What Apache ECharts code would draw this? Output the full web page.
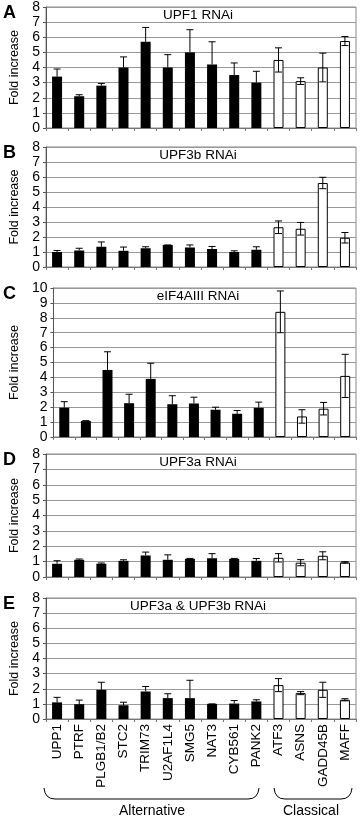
<!DOCTYPE html>
<html lang="en">
<head>
<meta charset="UTF-8">
<title>Fold increase after RNAi</title>
<script src="https://cdn.jsdelivr.net/npm/echarts@6/dist/echarts.min.js"></script>
<style>
  html, body { margin: 0; padding: 0; background: #fff; }
</style>
</head>
<body>
<div id="main" style="width:360px;height:818px;"></div>
<script type="text/javascript">
// genes, first 10 alternative targets, last 4 classical
var genes = ['UPP1', 'PTRF', 'PLGB1/B2', 'STC2', 'TRIM73', 'U2AF1L4', 'SMG5', 'NAT3', 'CYB561', 'PANK2',
             'ATF3', 'ASNS', 'GADD45B', 'MAFF'];
var nAlternative = 10;

var panelLetters = ['A', 'B', 'C', 'D', 'E'];
var panelTitles = ['UPF1 RNAi', 'UPF3b RNAi', 'eIF4AIII RNAi', 'UPF3a RNAi', 'UPF3a & UPF3b RNAi'];
var panelMax = [8, 8, 10, 8, 8];

// fold increase
var upf1 = [3.4, 2.1, 2.8, 4.0, 5.7, 4.0, 5.0, 4.2, 3.5, 3.0, 4.5, 3.1, 4.0, 5.75];
var upf1Err = [0.5, 0.1, 0.15, 0.7, 0.95, 0.85, 1.5, 1.5, 0.8, 0.75, 0.8, 0.22, 0.95, 0.3];

var upf3b = [1.0, 1.1, 1.35, 1.08, 1.25, 1.47, 1.3, 1.2, 1.0, 1.15, 2.65, 2.55, 5.6, 1.95];
var upf3bErr = [0.1, 0.15, 0.32, 0.25, 0.1, 0, 0.17, 0.17, 0.08, 0.2, 0.42, 0.42, 0.38, 0.35];

var eif4a3 = [1.97, 1.07, 4.5, 2.27, 3.9, 2.2, 2.25, 1.83, 1.56, 1.96, 8.4, 1.38, 1.9, 4.1];
var eif4a3Err = [0.4, 0.03, 1.22, 0.6, 1.05, 0.57, 0.42, 0.17, 0.22, 0.38, 1.4, 0.45, 0.42, 1.45];

var upf3a = [0.86, 1.12, 0.86, 1.05, 1.4, 1.12, 1.18, 1.22, 1.18, 1.05, 1.25, 0.93, 1.38, 0.95];
var upf3aErr = [0.2, 0.05, 0.05, 0.07, 0.22, 0.32, 0.03, 0.3, 0.03, 0.15, 0.27, 0.2, 0.26, 0.05];

var upf3ab = [1.1, 0.98, 1.93, 0.91, 1.82, 1.38, 1.38, 1.0, 1.02, 1.16, 2.24, 1.71, 1.93, 1.27];
var upf3abErr = [0.33, 0.27, 0.5, 0.2, 0.33, 0.29, 1.18, 0, 0.2, 0.11, 0.43, 0.1, 0.5, 0.07];

var panelValues = [upf1, upf3b, eif4a3, upf3a, upf3ab];
var panelErrors = [upf1Err, upf3bErr, eif4a3Err, upf3aErr, upf3abErr];

// layout of the five plot areas (px)
var gridTops = [7, 147, 288, 454, 598];
var gridHeights = [121, 120, 149, 123, 121];
var gridLeft = 40, gridRight = 4;

var font = 'Liberation Sans, Arial, sans-serif';
var myChart = echarts.init(document.getElementById('main'));

var grids = [], xAxes = [], yAxes = [], series = [], graphics = [];

for (var p = 0; p < 5; p++) {
    grids.push({
        left: gridLeft, right: gridRight, top: gridTops[p], height: gridHeights[p],
        show: true, borderColor: '#888', borderWidth: 1, backgroundColor: '#fff'
    });
    var last = (p === 4);
    xAxes.push({
        type: 'category', gridIndex: p, data: genes,
        axisLine: { show: true, lineStyle: { color: '#777', width: 1 } },
        axisTick: { show: true, length: 3, lineStyle: { color: '#777' } },
        axisLabel: {
            show: last, interval: 0, rotate: 90, margin: 5,
            fontFamily: font, fontSize: 13.5, color: '#000'
        },
        splitLine: { show: false }
    });
    yAxes.push({
        type: 'value', gridIndex: p, min: 0, max: panelMax[p], interval: 1,
        name: 'Fold increase', nameLocation: 'middle', nameGap: 25,
        nameTextStyle: { fontFamily: font, fontSize: 12.5, color: '#000' },
        axisLine: { show: true, lineStyle: { color: '#555' } },
        axisTick: { show: true, length: 3, lineStyle: { color: '#555' } },
        axisLabel: { fontFamily: font, fontSize: 14, color: '#000', margin: 6 },
        splitLine: { show: true, lineStyle: { color: '#999', width: 1 } }
    });

    var vals = panelValues[p], errs = panelErrors[p];
    var barData = [], errData = [];
    for (var i = 0; i < genes.length; i++) {
        var classical = i >= nAlternative;
        barData.push({
            value: vals[i],
            itemStyle: classical
                ? { color: '#fff', borderColor: '#000', borderWidth: 1 }
                : { color: '#000' }
        });
        // black bars only show the upper half of the error bar
        errData.push([i, vals[i], vals[i] + errs[i], classical ? vals[i] - errs[i] : vals[i], classical ? 1 : 0]);
    }
    series.push({
        type: 'bar', xAxisIndex: p, yAxisIndex: p, data: barData,
        barWidth: 10, silent: true, animation: false
    });
    series.push({
        type: 'custom', xAxisIndex: p, yAxisIndex: p, data: errData, z: 5,
        animation: false, silent: true,
        renderItem: function (params, api) {
            var top = api.coord([api.value(0), api.value(2)]);
            var bot = api.coord([api.value(0), api.value(3)]);
            var twoSided = api.value(4) === 1;
            var w = 3.5;
            var style = { stroke: '#000', lineWidth: 1, fill: null };
            var kids = [];
            if (top[1] < bot[1] - 0.5) {
                kids.push({ type: 'line', shape: { x1: top[0], y1: top[1], x2: bot[0], y2: bot[1] }, style: style });
            }
            kids.push({ type: 'line', shape: { x1: top[0] - w, y1: top[1], x2: top[0] + w, y2: top[1] }, style: style });
            if (twoSided) {
                kids.push({ type: 'line', shape: { x1: bot[0] - w, y1: bot[1], x2: bot[0] + w, y2: bot[1] }, style: style });
            }
            return { type: 'group', children: kids };
        }
    });

    // panel letter and panel title
    var band = gridHeights[p] / panelMax[p];
    graphics.push({
        type: 'text', x: 3, y: gridTops[p] + 6, z: 10,
        style: { text: panelLetters[p], font: 'bold 18px ' + font, fill: '#000', textVerticalAlign: 'middle' }
    });
    graphics.push({
        type: 'text', x: gridLeft + (360 - gridLeft - gridRight) / 2, y: gridTops[p] + band / 2 + 1, z: 10,
        style: { text: panelTitles[p], font: '13.5px ' + font, fill: '#000', textAlign: 'center', textVerticalAlign: 'middle' }
    });
}

// braces under the gene names
function brace(x1, x2, yEnd, yLine) {
    var st = { stroke: '#000', lineWidth: 1, fill: null };
    graphics.push({ type: 'bezierCurve', shape: { x1: x1, y1: yEnd, cpx1: x1 + 1, cpy1: yLine, x2: x1 + 11, y2: yLine }, style: st });
    graphics.push({ type: 'line', shape: { x1: x1 + 11, y1: yLine, x2: x2 - 11, y2: yLine }, style: st });
    graphics.push({ type: 'bezierCurve', shape: { x1: x2 - 11, y1: yLine, cpx1: x2 - 1, cpy1: yLine, x2: x2, y2: yEnd }, style: st });
}
brace(44, 259, 788, 799);
brace(274, 352, 788, 799);
graphics.push({
    type: 'text', x: 152, y: 811,
    style: { text: 'Alternative', font: '14px ' + font, fill: '#000', textAlign: 'center', textVerticalAlign: 'middle' }
});
graphics.push({
    type: 'text', x: 311, y: 811,
    style: { text: 'Classical', font: '14px ' + font, fill: '#000', textAlign: 'center', textVerticalAlign: 'middle' }
});

var option = {
    backgroundColor: '#fff',
    animation: false,
    grid: grids,
    xAxis: xAxes,
    yAxis: yAxes,
    series: series,
    graphic: graphics
};
myChart.setOption(option);
</script>
</body>
</html>
